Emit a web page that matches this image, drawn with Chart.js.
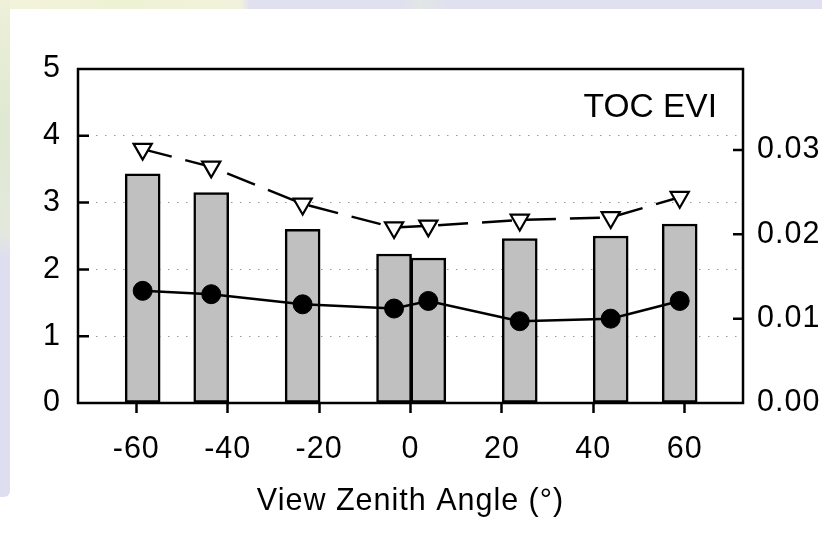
<!DOCTYPE html>
<html lang="en">
<head>
    <meta charset="UTF-8">
    <title>TOC EVI vs View Zenith Angle</title>
    <script src="https://cdn.jsdelivr.net/npm/chart.js@4.4.4/dist/chart.umd.min.js"></script>
    <style>
        html, body {
            margin: 0;
            padding: 0;
            background: #ffffff;
            overflow: hidden;
        }
        .strip-top {
            position: absolute;
            left: 0;
            top: 0;
            width: 822px;
            height: 9px;
            background: linear-gradient(to right, #f3f3dc 0px, #eef2d4 120px, #f2f2dc 240px, #e0e0f0 250px, #e0e0f0 400px, #e2e6e4 420px, #e0e0f0 450px, #e0e0f0 822px);
        }
        .strip-left {
            position: absolute;
            left: 0;
            top: 0;
            width: 10px;
            height: 497px;
            border-bottom-right-radius: 6px;
            background: linear-gradient(to bottom, #eef0d8 0px, #dfe8d2 120px, #e4e8dc 230px, #dedef0 260px, #dedef0 497px);
        }
        #chart {
            position: absolute;
            left: 0;
            top: 0;
        }
    </style>
</head>
<body>
    <div class="strip-top"></div>
    <div class="strip-left"></div>
    <canvas id="chart" width="822" height="537"></canvas>

    <script>
        // Data
        const angles = [-58.6, -43.6, -23.6, -3.6, 3.9, 23.9, 43.8, 58.9];
        const barValues = [3.43, 3.15, 2.60, 2.23, 2.17, 2.46, 2.50, 2.68];
        const circleValues = [0.0133, 0.0129, 0.0117, 0.0112, 0.0121, 0.0097, 0.0100, 0.0121];
        const triangleValues = [0.0301, 0.0280, 0.0236, 0.0208, 0.0210, 0.0217, 0.0220, 0.0244];

        // Axis ticks
        const xTicks = [-60, -40, -20, 0, 20, 40, 60];
        const yTicks = [0, 1, 2, 3, 4, 5];
        const y2Ticks = [0, 0.01, 0.02, 0.03];

        const toPoints = vals => angles.map((a, i) => ({ x: a, y: vals[i] }));

        Chart.defaults.font.family = '"Liberation Sans", Arial, sans-serif';
        Chart.defaults.color = '#000';

        // slightly wider text, like the original figure
        const spacing = {
            id: 'spacing',
            beforeUpdate(chart) { chart.ctx.letterSpacing = '1px'; },
            beforeDraw(chart) { chart.ctx.letterSpacing = '1px'; }
        };

        // frame, inward ticks and the panel label
        const frame = {
            id: 'frame',
            afterDraw(chart) {
                const { ctx, chartArea: a, scales } = chart;
                ctx.save();
                ctx.strokeStyle = '#000';
                ctx.lineWidth = 2.5;
                ctx.strokeRect(a.left, a.top, a.right - a.left, a.bottom - a.top);
                ctx.beginPath();
                yTicks.forEach(v => {
                    if (v <= 0 || v >= 5) return;
                    const y = scales.y.getPixelForValue(v);
                    ctx.moveTo(a.left, y);
                    ctx.lineTo(a.left + 11, y);
                });
                y2Ticks.forEach(v => {
                    if (v <= 0) return;
                    const y = scales.y2.getPixelForValue(v);
                    ctx.moveTo(a.right - 10, y);
                    ctx.lineTo(a.right, y);
                });
                ctx.stroke();
                ctx.letterSpacing = '0px';
                ctx.fillStyle = '#000';
                ctx.font = '33.5px "Liberation Sans", Arial, sans-serif';
                ctx.textAlign = 'right';
                ctx.textBaseline = 'alphabetic';
                ctx.fillText('TOC EVI', 717, 117);
                ctx.restore();
            }
        };

        new Chart(document.getElementById('chart'), {
            type: 'bar',
            data: {
                datasets: [
                    {
                        type: 'line',
                        data: toPoints(circleValues),
                        yAxisID: 'y2',
                        borderColor: '#000',
                        borderWidth: 2.5,
                        tension: 0,
                        pointStyle: 'circle',
                        pointRadius: 9.5,
                        pointBackgroundColor: '#000',
                        pointBorderColor: '#000',
                        pointBorderWidth: 1,
                        order: 1
                    },
                    {
                        type: 'line',
                        data: toPoints(triangleValues),
                        yAxisID: 'y2',
                        borderColor: '#000',
                        borderWidth: 2.5,
                        borderDash: [30, 14],
                        tension: 0,
                        pointStyle: 'triangle',
                        pointRotation: 180,
                        pointRadius: 10.5,
                        pointBackgroundColor: '#fff',
                        pointBorderColor: '#000',
                        pointBorderWidth: 2.2,
                        order: 2
                    },
                    {
                        type: 'bar',
                        data: toPoints(barValues),
                        yAxisID: 'y',
                        backgroundColor: '#c0c0c0',
                        borderColor: '#000',
                        borderWidth: 2.5,
                        borderSkipped: false,
                        barThickness: 35,
                        order: 3
                    }
                ]
            },
            options: {
                responsive: false,
                animation: false,
                events: [],
                layout: { padding: { top: 69, left: 0, right: 0, bottom: 0 } },
                plugins: {
                    legend: { display: false },
                    tooltip: { enabled: false }
                },
                scales: {
                    x: {
                        type: 'linear',
                        offset: false,
                        min: -72.75,
                        max: 72.75,
                        afterBuildTicks: s => { s.ticks = xTicks.map(v => ({ value: v })); },
                        afterFit: s => { s.height = 134; },
                        grid: {
                            offset: false,
                            drawOnChartArea: false,
                            drawTicks: true,
                            tickLength: 10,
                            tickColor: '#000',
                            tickWidth: 2.5,
                            color: '#000'
                        },
                        border: { display: false },
                        ticks: {
                            font: { size: 30.5 },
                            padding: 18,
                            maxRotation: 0,
                            callback: v => String(v)
                        },
                        title: {
                            display: true,
                            text: 'View Zenith Angle (°)',
                            font: { size: 30.5 },
                            padding: { top: 0, bottom: 17 }
                        }
                    },
                    y: {
                        position: 'left',
                        min: 0,
                        max: 5,
                        afterBuildTicks: s => { s.ticks = yTicks.map(v => ({ value: v })); },
                        afterFit: s => { s.width = 78; },
                        grid: {
                            drawTicks: false,
                            lineWidth: 1,
                            color: c => (c.tick && c.tick.value > 0 && c.tick.value < 5) ? '#9a9a9a' : 'rgba(0,0,0,0)'
                        },
                        border: { display: false, dash: [1.5, 7.5] },
                        ticks: {
                            font: { size: 30.5 },
                            padding: 17,
                            callback: v => String(v)
                        }
                    },
                    y2: {
                        position: 'right',
                        min: 0,
                        max: 0.0396,
                        afterBuildTicks: s => { s.ticks = y2Ticks.map(v => ({ value: v })); },
                        afterFit: s => { s.width = 79; },
                        grid: { drawOnChartArea: false, drawTicks: false },
                        border: { display: false },
                        ticks: {
                            font: { size: 30.5 },
                            padding: 14,
                            callback: v => v.toFixed(2)
                        }
                    }
                }
            },
            plugins: [spacing, frame]
        });
    </script>
</body>
</html>
